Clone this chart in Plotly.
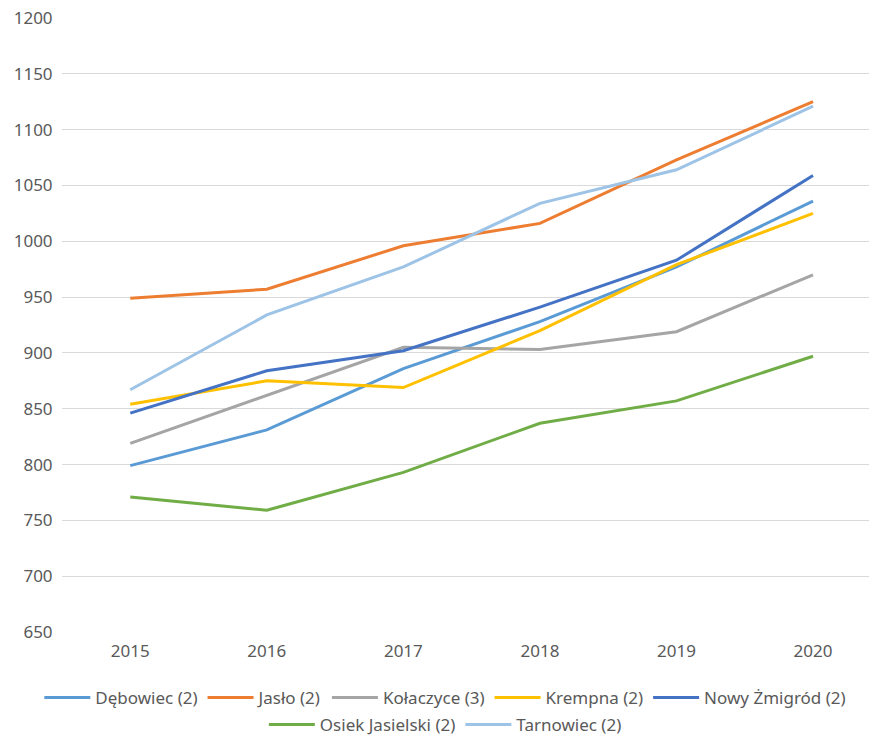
import plotly.graph_objects as go

years = ["2015", "2016", "2017", "2018", "2019", "2020"]
names = ["Dębowiec (2)", "Jasło (2)", "Kołaczyce (3)", "Krempna (2)",
         "Nowy Żmigród (2)", "Osiek Jasielski (2)", "Tarnowiec (2)"]
debowiec = [799, 831, 886, 928, 977, 1036]
jaslo = [949, 957, 996, 1016, 1073, 1125]
kolaczyce = [819, 862, 905, 903, 919, 970]
krempna = [854, 875, 869, 920, 979, 1025]
nowy_zmigrod = [846, 884, 902, 941, 983, 1059]
osiek = [771, 759, 793, 837, 857, 897]
tarnowiec = [867, 934, 977, 1034, 1064, 1121]
series = [debowiec, jaslo, kolaczyce, krempna, nowy_zmigrod, osiek, tarnowiec]
colors = ["#5B9BD5", "#ED7D31", "#A5A5A5", "#FFC000", "#4472C4", "#70AD47", "#9DC3E6"]

FONT = "Noto Sans, Liberation Sans, sans-serif"
TXT = "#595959"

fig = go.Figure()
for i, (n, s, c) in enumerate(zip(names, series, colors)):
    fig.add_trace(go.Scatter(x=years, y=s, name=n, mode="lines",
                             line=dict(color=c, width=3),
                             legend="legend" if i < 5 else "legend2"))

leg_common = dict(orientation="h", xanchor="center", yanchor="middle",
                  font=dict(family=FONT, size=17, color=TXT), itemwidth=46,
                  bgcolor="rgba(0,0,0,0)")

fig.update_layout(
    width=869, height=738,
    margin=dict(l=62, r=0, t=18, b=106, autoexpand=False),
    paper_bgcolor="white", plot_bgcolor="white",
    font=dict(family=FONT, size=17, color=TXT),
    showlegend=True,
    legend=dict(x=0.475, y=-0.1075, **leg_common),
    legend2=dict(x=0.475, y=-0.1515, **leg_common),
    xaxis=dict(type="category", range=[-0.5, 5.41], showgrid=False, zeroline=False,
               showline=False, ticks="", ticklabelstandoff=7,
               tickfont=dict(size=17, color=TXT)),
    yaxis=dict(range=[650, 1200], dtick=50, showgrid=True, gridcolor="#D9D9D9",
               gridwidth=1.3, zeroline=False, showline=False, ticks="outside",
               ticklen=5, tickcolor="rgba(0,0,0,0)",
               tickfont=dict(size=17, color=TXT)),
)
fig.write_html("out.html", config={"displayModeBar": False},
               post_script="document.body.style.margin='0px';")
